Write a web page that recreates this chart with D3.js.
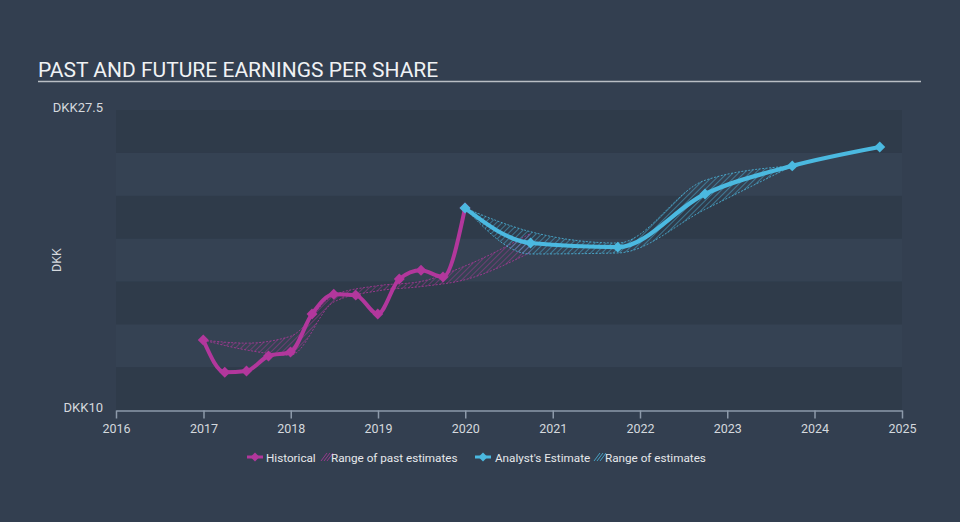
<!DOCTYPE html>
<html><head><meta charset="utf-8">
<script src="https://cdn.jsdelivr.net/npm/d3@7"></script>
<style>
html,body{margin:0;padding:0;background:#333f50;}
svg{display:block;font-family:Roboto,"Open Sans",sans-serif;}
</style></head>
<body>
<svg id="chart" width="960" height="522"></svg>
<script>
const title = "PAST AND FUTURE EARNINGS PER SHARE";
const yTickLabels = ["DKK10", "DKK27.5"];
const yTickValues = [10, 27.5];
const xTickYears = [2016, 2017, 2018, 2019, 2020, 2021, 2022, 2023, 2024, 2025];

const historicalDates = ["2016-12-31","2017-03-31","2017-06-30","2017-09-30","2017-12-31","2018-03-31","2018-06-30","2018-09-30","2018-12-31","2019-03-31","2019-06-30","2019-09-30","2019-12-31"];
const historicalValues = [14.08, 12.2, 12.28, 13.15, 13.38, 15.6, 16.75, 16.7, 15.6, 17.64, 18.15, 17.76, 21.78];

const pastRangeDates = ["2016-12-31","2017-06-30","2017-12-31","2018-06-30","2018-12-31","2019-06-30","2019-12-31","2020-09-30"];
const pastRangeLow  = [14.08, 13.5, 13.2, 16.3, 16.95, 17.2, 17.6, 19.2];
const pastRangeHigh = [14.08, 13.9, 14.3, 16.7, 17.25, 17.5, 18.4, 20.3];

const estimateDates = ["2019-12-31","2020-09-30","2021-09-30","2022-09-30","2023-09-30","2024-09-30"];
const estimateValues = [21.78, 19.74, 19.5, 22.6, 24.24, 25.34];

const estRangeDates = ["2019-12-31","2020-09-30","2021-09-30","2022-09-30","2023-09-30"];
const estRangeLow  = [21.78, 19.1, 19.16, 21.7, 24.24];
const estRangeHigh = [21.78, 20.4, 19.74, 23.4, 24.24];

const legendItems = ["Historical", "Range of past estimates", "Analyst's Estimate", "Range of estimates"];

const HIST = "#b2379c", EST = "#4bb9e0";
const parse = d3.timeParse("%Y-%m-%d");
const svg = d3.select("#chart");
const L = 116, R = 902, T = 110, B = 410;

const x = d3.scaleTime().domain([new Date(2016,0,1), new Date(2025,0,1)]).range([L, R]);
const y = d3.scaleLinear().domain([10, 27.5]).range([B, T]);

// defs: hatch patterns
const defs = svg.append("defs");
function hatch(id, color, op) {
  const p = defs.append("pattern").attr("id", id).attr("patternUnits", "userSpaceOnUse")
    .attr("width", 4).attr("height", 4).attr("patternTransform", "rotate(45)");
  p.append("line").attr("x1", 0).attr("y1", 0).attr("x2", 0).attr("y2", 4)
    .attr("stroke", color).attr("stroke-width", 1.2).attr("stroke-opacity", op);
}
hatch("hatchPast", HIST, 0.75);
hatch("hatchEst", EST, 0.8);

// bands
const bandStep = 2.5;
const bands = d3.range(10, 27.5, bandStep);
svg.append("g").selectAll("rect").data(bands).join("rect")
  .attr("x", L).attr("width", R - L)
  .attr("y", d => y(d + bandStep)).attr("height", d => y(d) - y(d + bandStep))
  .attr("fill", (d, i) => i % 2 === 0 ? "#2f3b4a" : "#354253");

// title
svg.append("text").attr("x", 38).attr("y", 77).attr("fill", "#f0f2f4")
  .attr("font-size", 21).text(title);
svg.append("line").attr("x1", 38).attr("x2", 921).attr("y1", 81.5).attr("y2", 81.5)
  .attr("stroke", "#b9bec4").attr("stroke-width", 1.5);

// y labels
svg.append("g").selectAll("text").data(yTickValues).join("text")
  .attr("x", 103).attr("y", d => y(d)).attr("dy", "0.15em")
  .attr("text-anchor", "end").attr("fill", "#d5d9de").attr("font-size", 13)
  .text((d, i) => yTickLabels[i]);
svg.append("text").attr("transform", `translate(61,${(T + B) / 2}) rotate(-90)`)
  .attr("text-anchor", "middle").attr("fill", "#d5d9de").attr("font-size", 12.5).text("DKK");

// x axis
const xAxis = d3.axisBottom(x)
  .tickValues(xTickYears.map(yr => new Date(yr, 0, 1)))
  .tickFormat(d3.timeFormat("%Y")).tickSize(8).tickSizeOuter(0);
const gx = svg.append("g").attr("transform", `translate(0,${B + 0.5})`).call(xAxis);
gx.select(".domain").attr("stroke", "#8d9aaa").attr("stroke-width", 1.5);
gx.selectAll(".tick line").attr("stroke", "#8d9aaa").attr("stroke-width", 1.5);
gx.selectAll(".tick text").attr("fill", "#d5d9de").attr("font-size", 12.5)
  .attr("font-family", "Roboto,sans-serif").attr("dy", "0.9em");

// ranges
function rangeArea(dates, lo, hi, fillId, color) {
  const data = dates.map((d, i) => ({ d: parse(d), lo: lo[i], hi: hi[i] }));
  const curve = d3.curveMonotoneX;
  svg.append("path").datum(data)
    .attr("d", d3.area().x(p => x(p.d)).y0(p => y(p.lo)).y1(p => y(p.hi)).curve(curve))
    .attr("fill", `url(#${fillId})`);
  ["lo", "hi"].forEach(k => {
    svg.append("path").datum(data)
      .attr("d", d3.line().x(p => x(p.d)).y(p => y(p[k])).curve(curve))
      .attr("fill", "none").attr("stroke", color).attr("stroke-width", 1)
      .attr("stroke-dasharray", "2,1.5").attr("stroke-opacity", 0.8);
  });
}
rangeArea(pastRangeDates, pastRangeLow, pastRangeHigh, "hatchPast", HIST);
rangeArea(estRangeDates, estRangeLow, estRangeHigh, "hatchEst", EST);

// lines
const diamond = d3.symbol().type(d3.symbolSquare).size(60);
function series(dates, vals, color, w) {
  const data = dates.map((d, i) => ({ d: parse(d), v: vals[i] }));
  svg.append("path").datum(data)
    .attr("d", d3.line().x(p => x(p.d)).y(p => y(p.v)).curve(d3.curveMonotoneX))
    .attr("fill", "none").attr("stroke", color).attr("stroke-width", w)
    .attr("stroke-linejoin", "round").attr("stroke-linecap", "round");
  svg.append("g").selectAll("path").data(data).join("path")
    .attr("d", diamond)
    .attr("transform", p => `translate(${x(p.d)},${y(p.v)}) rotate(45)`)
    .attr("fill", color);
}
series(historicalDates, historicalValues, HIST, 4);
series(estimateDates, estimateValues, EST, 4.2);

// legend
const lg = svg.append("g").attr("font-size", 11.7).attr("fill", "#e6e8eb");
function legendMarker(cx, color) {
  lg.append("line").attr("x1", cx - 8).attr("x2", cx + 8).attr("y1", 457).attr("y2", 457)
    .attr("stroke", color).attr("stroke-width", 3);
  lg.append("path").attr("d", d3.symbol().type(d3.symbolSquare).size(40))
    .attr("transform", `translate(${cx},457) rotate(45)`).attr("fill", color);
}
function legendHatch(x0, color) {
  for (let k = 0; k < 3; k++) {
    lg.append("line").attr("x1", x0 + k * 3).attr("y1", 461).attr("x2", x0 + k * 3 + 6).attr("y2", 453)
      .attr("stroke", color).attr("stroke-width", 1).attr("stroke-opacity", 0.8);
  }
}
legendMarker(255, HIST);
lg.append("text").attr("x", 266).attr("y", 461.5).text(legendItems[0]);
legendHatch(321, HIST);
lg.append("text").attr("x", 331).attr("y", 461.5).text(legendItems[1]);
legendMarker(483, EST);
lg.append("text").attr("x", 495).attr("y", 461.5).text(legendItems[2]);
legendHatch(594, EST);
lg.append("text").attr("x", 605).attr("y", 461.5).text(legendItems[3]);
</script>
</body></html>
